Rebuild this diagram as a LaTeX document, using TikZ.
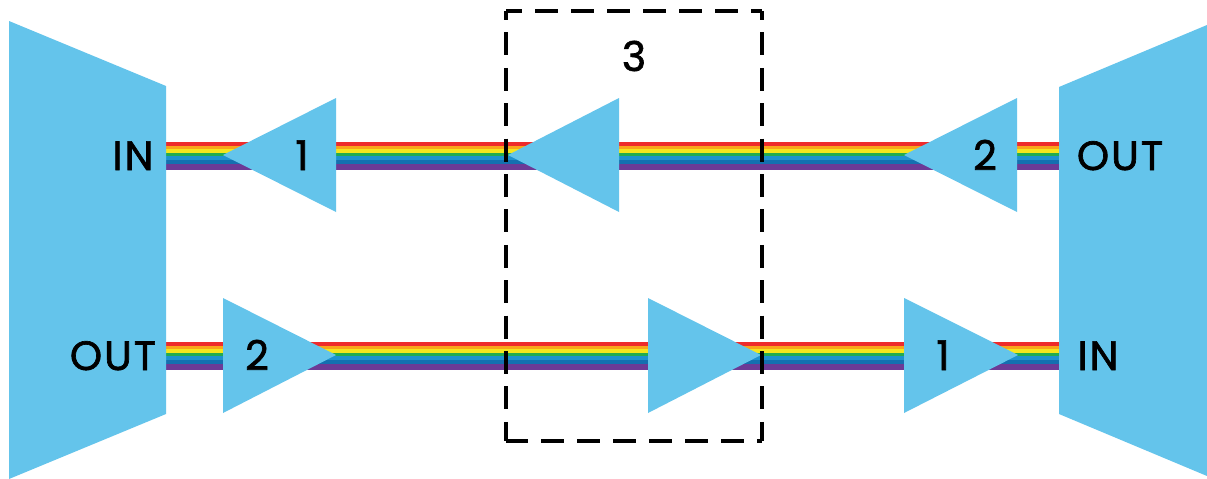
\documentclass[tikz,border=0pt]{standalone}
\usepackage{fontspec}
\setmainfont[FakeBold=1.6,LetterSpace=5]{Poppins}
\definecolor{skyb}{HTML}{64C4EB}
\definecolor{rred}{HTML}{EE2B2B}
\definecolor{rorange}{HTML}{F9A51B}
\definecolor{ryellow}{HTML}{F4E61E}
\definecolor{rgreen}{HTML}{22AC50}
\definecolor{rblue1}{HTML}{1D93CF}
\definecolor{rblue2}{HTML}{1470B0}
\definecolor{rpurple}{HTML}{6C3A96}
\tikzset{
  shapefill/.style={fill=skyb,draw=none},
  lbl/.style={font=\fontsize{41}{41}\selectfont,text=black,inner sep=0pt,anchor=base},
  frametop/.style={draw=black,line width=3.3pt,dash pattern=on 23pt off 13pt,dash phase=7pt},
  framebot/.style={draw=black,line width=3.3pt,dash pattern=on 23pt off 13pt,dash phase=1pt},
  framev/.style={draw=black,line width=3.3pt,dash pattern=on 23pt off 12.4pt,dash phase=14pt}
}
\newcommand{\rainbow}[3]{% x0, x1, top y
  \fill[rred] (#1,#3) rectangle (#2,#3+4);
  \fill[rorange] (#1,#3+4) rectangle (#2,#3+7.3);
  \fill[ryellow] (#1,#3+7.3) rectangle (#2,#3+10.6);
  \fill[rgreen] (#1,#3+10.6) rectangle (#2,#3+14.3);
  \fill[rblue1] (#1,#3+14.3) rectangle (#2,#3+17.6);
  \fill[rblue2] (#1,#3+17.6) rectangle (#2,#3+21.6);
  \fill[rpurple] (#1,#3+21.6) rectangle (#2,#3+27.5);
}
\begin{document}
\begin{tikzpicture}[x=1pt,y=-1pt]
\useasboundingbox (0,0) rectangle (1207,479);
\fill[white] (0,0) rectangle (1207,479);
\rainbow{160}{1064}{142}
\rainbow{160}{1064}{342}
% muxes
\fill[shapefill] (9,21) -- (166,86) -- (166,414) -- (9,479) -- cycle;
\fill[shapefill] (1207,25) -- (1059,87) -- (1059,414) -- (1207,476) -- cycle;
% amplifiers
\fill[shapefill] (223,155) -- (336,98) -- (336,212) -- cycle;
\fill[shapefill] (508,155) -- (619,98) -- (619,212) -- cycle;
\fill[shapefill] (904,155) -- (1017,98) -- (1017,212) -- cycle;
\fill[shapefill] (336,355) -- (223,298) -- (223,413) -- cycle;
\fill[shapefill] (761,355) -- (648,298) -- (648,413) -- cycle;
\fill[shapefill] (1018,355) -- (904,298) -- (904,413) -- cycle;
% dashed frame
\coordinate (tl) at (506,11);
\coordinate (tr) at (762,11);
\coordinate (bl) at (506,441);
\coordinate (br) at (762,441);
\draw[frametop] (tl) -- (tr);
\draw[framebot] (bl) -- (br);
\draw[framev] (tl) -- (bl);
\draw[framev] (tr) -- (br);
% labels
\node[lbl] (inl) at (133,170) {IN};
\node[lbl] (outl) at (113,370) {OUT};
\node[lbl] (one) at (302,170) {1};
\node[lbl] (two) at (257,370) {2};
\node[lbl] (three) at (634,71) {3};
\node[lbl] (twor) at (985,170) {2};
\node[lbl] (oner) at (943,370) {1};
\node[lbl] (outr) at (1120,170) {OUT};
\node[lbl] (inr) at (1098,370) {IN};
\end{tikzpicture}
\end{document}
